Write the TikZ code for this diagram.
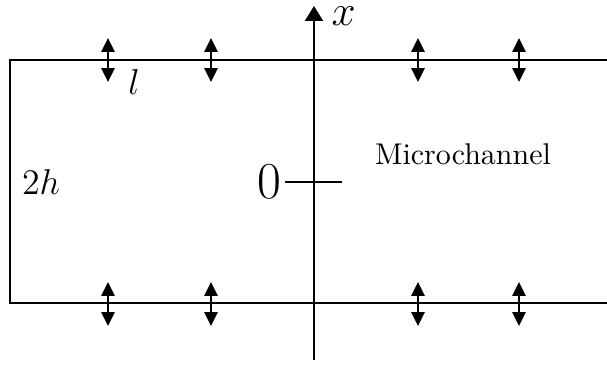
\documentclass[tikz,border=0pt]{standalone}
\usepackage{amsmath,amssymb}
\usetikzlibrary{arrows.meta}
\tikzset{
  wall/.style={
    line width=0.7pt
  },
  vib/.style={
    line width=0.7pt,
    {Triangle[length=4.6pt,width=4.4pt]}-{Triangle[length=4.6pt,width=4.4pt]}
  },
  axisline/.style={
    line width=0.7pt,
    -{Triangle[length=5pt,width=6pt]}
  },
  every picture/.style = {
    x=0.3333pt,
    y=-0.3333pt
  }
}
\begin{document}
\begin{tikzpicture}
  \useasboundingbox (0,0) rectangle (607,366);
  % walls of the channel
  \coordinate (tr) at (607,60);
  \coordinate (tl) at (10,60);
  \coordinate (bl) at (10,303);
  \coordinate (br) at (607,303);
  \draw[wall] (tr)--(tl)--(bl)--(br);
  % axis and tick
  \coordinate (ax0) at (314,360);
  \coordinate (ax1) at (314,6);
  \draw[axisline] (ax0)--(ax1);
  \node[font=\Large,anchor=west,inner sep=0pt] (xl) at (331,16) {$x$};
  \coordinate (tk0) at (285,182);
  \coordinate (tk1) at (342,182);
  \draw[wall] (tk0)--(tk1);
  \node[font=\LARGE,anchor=east,inner sep=1pt] (zero) at (tk0) {$0$};
  % oscillating walls
  \foreach \px [count=\i] in {108,211,418,519}{
    \coordinate (t\i a) at (\px,38);
    \coordinate (t\i b) at (\px,82);
    \coordinate (b\i a) at (\px,282);
    \coordinate (b\i b) at (\px,326);
    \draw[vib] (t\i a)--(t\i b);
    \draw[vib] (b\i a)--(b\i b);
  }
  % labels
  \node[font=\large] (ll) at (134,82) {$l$};
  \node[font=\large] (hh) at (41,182) {$2h$};
  \node (mc) at (463,154) {Microchannel};
\end{tikzpicture}
\end{document}
